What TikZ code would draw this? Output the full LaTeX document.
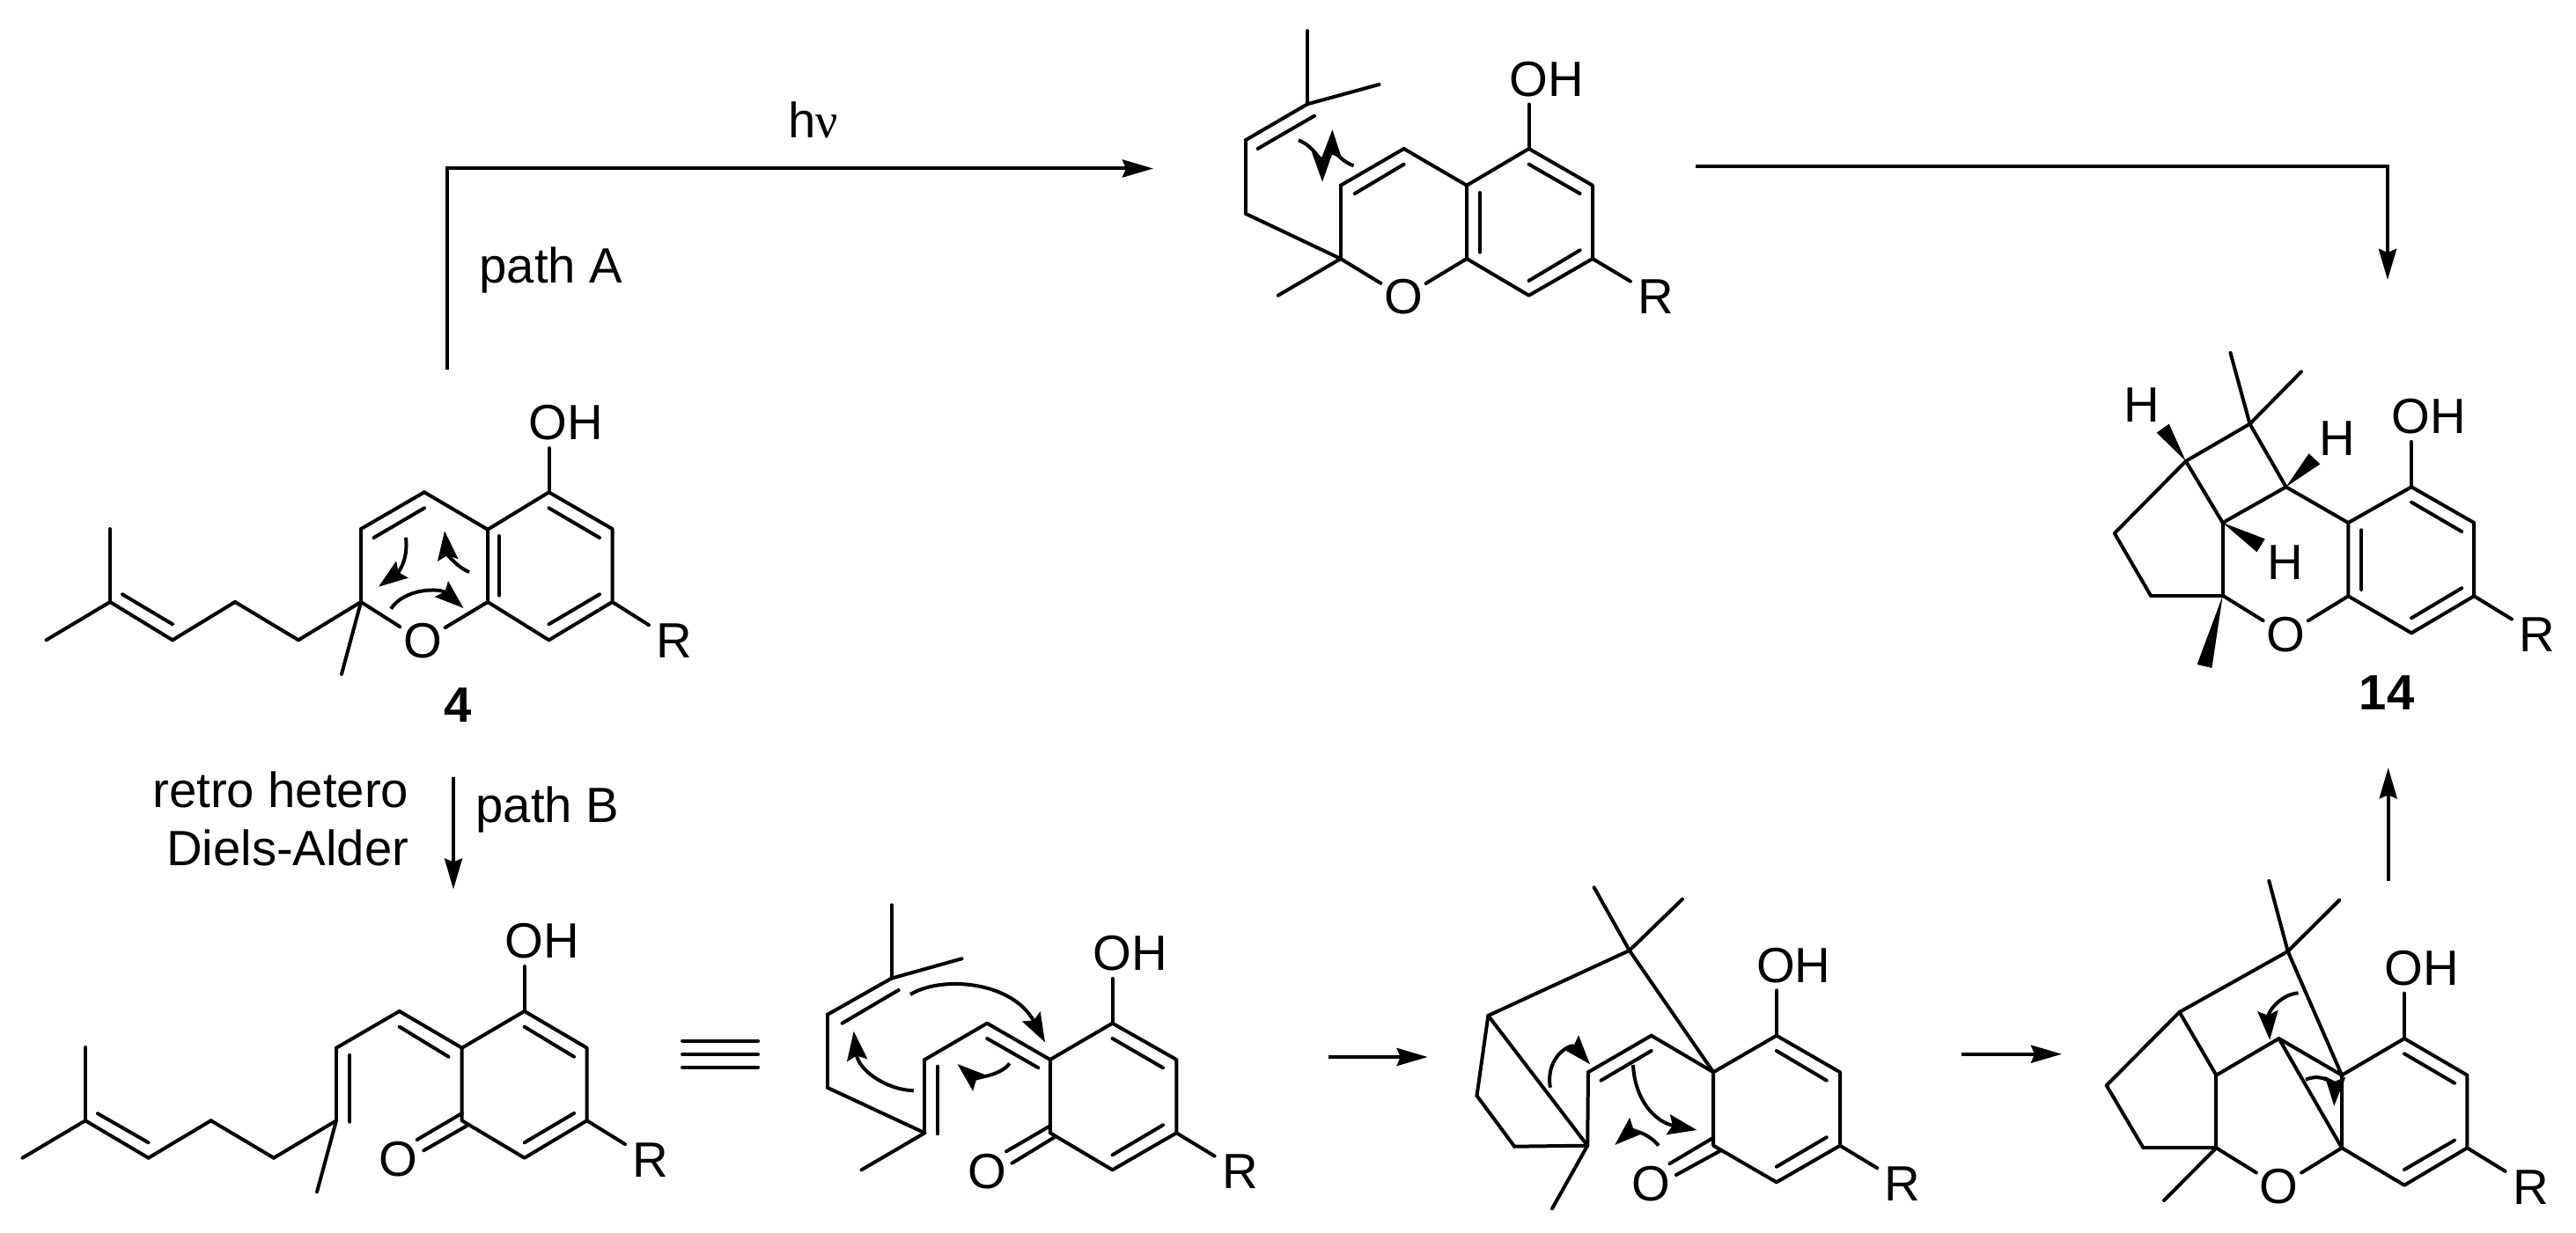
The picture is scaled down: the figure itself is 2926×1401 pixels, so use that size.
\documentclass[tikz,border=0pt]{standalone}
\usepackage{fontspec, tkz-euclide}
\usetikzlibrary{arrows.meta}
\setmainfont{Liberation Sans}
\newfontfamily\greekfont{Liberation Serif}
\tikzset{>={Stealth[length=0.35cm,width=0.2cm,inset=0.04cm]}}
\tikzset{bond/.style={line width=0.04cm, line cap=round}}
\tikzset{curly/.style={line width=0.04cm, ->, >={Stealth[length=0.33cm,width=0.23cm,inset=0.05cm]}}}
\tikzset{atom/.style={font=\fontsize{16}{18.8}\selectfont, inner xsep=0.03cm, inner ysep=0.08cm}}
\tikzset{rgroup/.style={atom, inner xsep=0.08cm}}
\tikzset{tag/.style={font=\fontsize{16}{18.8}\selectfont, inner sep=0pt}}
\tikzset{numbering/.style={font=\fontsize{16}{18.8}\selectfont\bfseries, inner sep=0pt}}

\begin{document}
\begin{tikzpicture}[x=0.01cm, y=-0.01cm]
    \useasboundingbox (0,0) rectangle (2926,1401);
    \tkzDefPoints{125/601/A1, 125/684/A2, 52.5/727.3/A3, 196/727.3/A4, 267/684/A5, 339/727.3/A6,
        410/684/A7, 388/766/A8, 410/601/A9, 482/559.3/A10, 554/601.7/A11, 554/684/A12,
        623.5/559.3/A13, 695.5/601/A14, 695.5/684/A15, 623.5/727.3/A16,
        139/675.3/Aa, 196/709.3/Ab, 424.5/611/Ac, 482/577.3/Ad, 567/609/Ae, 567/676.7/Af,
        623.5/577.3/Ag, 681/611/Ah, 623.5/709.3/Ai, 681/675.3/Aj}
    \tkzDefPoints{1485/35/B1, 1485/118.3/B2, 1566.5/96/B3, 1414.7/159.3/B4, 1414.7/242.7/B5,
        1522.8/294/B6, 1451.8/335.7/B7, 1522.8/210.7/B8, 1594.6/169/B9, 1666/210.7/B10,
        1666/294/B11, 1736.6/169/B12, 1809/210.7/B13, 1809/294/B14, 1736.6/335.7/B15,
        1428.6/169/Ba, 1492.9/131.7/Bb, 1538.8/220/Bc, 1594.6/186.7/Bd, 1680.8/219/Be,
        1680.8/286.7/Bf, 1736.6/186.7/Bg, 1794.6/220/Bh, 1736.6/319/Bi, 1794.6/284.3/Bj}
    \tkzDefPoints{2533.5/401/C1, 2614/422.3/C2, 2555.5/481.7/C3, 2482.8/524/C4, 2596.6/553.3/C5,
        2524.7/594/C6, 2401.8/606/C7, 2442.9/676.7/C8, 2524.7/676.7/C9, 2667.3/594/C10,
        2667.3/677.3/C11, 2739.1/553.3/C12, 2810.2/594/C13, 2810.2/677.3/C14, 2739.1/719.3/C15,
        2682.4/602.3/Ca, 2682.4/670/Cb, 2739.1/570.7/Cc, 2796.2/604/Cd, 2739.1/702.3/Ce,
        2796.2/668.3/Cf, 2449.7/491.7/Cg, 2463.7/481.7/Ch, 2622.6/515.3/Ci, 2635.3/527.3/Cj,
        2572.7/612.3/Ck, 2563.5/627.3/Cl, 2495.6/755/Cm, 2512.4/759/Cn}
    \tkzDefPoints{97/1190/D1, 97/1273.3/D2, 25.5/1315.7/D3, 168.6/1315.7/D4, 239.6/1273.3/D5,
        311/1315.7/D6, 382/1273.3/D7, 360/1354.3/D8, 382/1190.7/D9, 453.7/1149/D10,
        524.7/1190.7/D11, 524.7/1273.3/D12, 595.7/1149/D13, 666.7/1190.7/D14, 666.7/1273.3/D15,
        595.7/1315.7/D16,
        111/1265.3/Da, 168.6/1298.3/Db, 397.3/1199/Dc, 397.3/1274.7/Dd, 453.7/1166.7/De,
        509.5/1200.7/Df, 595.7/1166.7/Dg, 652/1200.7/Dh, 595.7/1298.3/Di, 652/1265/Dj,
        524.7/1265/Dk, 473.7/1295/Dl, 530/1279.3/Dm, 481.3/1307.3/Dn}
    \tkzDefPoints{1012.5/1028.3/E1, 1012.5/1111.7/E2, 1092.5/1089.3/E3, 940.2/1152.7/E4, 940.2/1236/E5,
        1050.4/1287.3/E6, 978.5/1329.3/E7, 1050.4/1204/E8, 1121.2/1162.7/E9, 1192.8/1204/E10,
        1192.8/1287.3/E11, 1263.6/1162.7/E12, 1336.3/1204/E13, 1336.3/1287.3/E14, 1263.6/1329.3/E15,
        956.6/1162.7/Ea, 1020.6/1125/Eb, 1065/1211.7/Ec, 1065/1288.3/Ed, 1121.2/1180/Ee,
        1179.4/1213.3/Ef, 1263.6/1180/Eg, 1321/1213.3/Eh, 1263.6/1312.3/Ei, 1321/1278.3/Ej,
        1192.8/1279.3/Ek, 1143/1308.3/El, 1198.5/1291.7/Em, 1149.5/1321.7/En}
    \tkzDefPoints{1810.6/1008.3/F1, 1911/1021.7/F2, 1850.8/1080/F3, 1690.4/1154/F4, 1677.5/1245/F5,
        1720.2/1302.7/F6, 1803.2/1301.7/F7, 1763/1373.3/F8, 1804/1218.3/F9, 1875.7/1176.7/F10,
        1946.2/1218.3/F11, 1946.2/1301.7/F12, 2017.9/1176.7/F13, 2090/1218.3/F14, 2090/1301.7/F15,
        2017.9/1343.3/F16,
        1818.5/1227.7/Fa, 1875.7/1194/Fb, 2017.9/1194/Fc, 2074.7/1227.7/Fd, 2017.9/1325.7/Fe,
        2074.7/1292.3/Ff, 1946.2/1292.7/Fg, 1896.4/1322.3/Fh, 1954.5/1307.3/Fi, 1903.9/1335/Fj}
    \tkzDefPoints{2577.3/1001/G1, 2657.3/1022.7/G2, 2598.7/1081/G3, 2475.6/1150/G4, 2392.7/1233.3/G5,
        2434.5/1304.3/G6, 2517.4/1304.3/G7, 2458/1364/G8, 2517.4/1221.7/G9, 2588.5/1180/G10,
        2660/1221.7/G11, 2660/1304.3/G12, 2731/1180/G13, 2802.4/1221.7/G14, 2802.4/1304.3/G15,
        2731/1346.7/G16,
        2731/1197.3/Ga, 2788/1230.7/Gb, 2731/1329/Gc, 2788/1295.7/Gd}
    \tkzDefPoints{508/420/P1, 508/191.5/P2, 1310/191.5/P3, 1926/189.3/Q1, 2712/189.3/Q2, 2712/318/Q3,
        515/883/S1, 515/1010.5/S2, 1509/1201/T1, 1621.7/1201/T2, 2228/1197.7/U1, 2342/1197.7/U2,
        2712.7/1000.7/V1, 2712.7/872.3/V2, 775/1182.7/W1, 861/1182.7/W2, 775/1198/W3, 861/1198/W4,
        775/1212.7/W5, 861/1212.7/W6}

    \node[atom] (oa) at (480,728.5) {O};
    \node[atom] (oha) at (643,480.5) {OH};
    \node[rgroup] (ra) at (766,728.5) {R};
    \node[numbering] (numa) at (520,801) {4};
    \node[atom] (ob) at (1594,337.5) {O};
    \node[atom] (ohb) at (1757,90) {OH};
    \node[rgroup] (rb) at (1881,337) {R};
    \node[atom] (oc) at (2596.2,721) {O};
    \node[atom] (ohc) at (2759,473.3) {OH};
    \node[rgroup] (rc) at (2882,721.3) {R};
    \node[numbering] (numc) at (2711.2,787) {14};
    \node[atom] (ha) at (2433,460) {H};
    \node[atom] (hb) at (2654.9,498) {H};
    \node[atom] (hc) at (2595.8,639) {H};
    \node[atom] (od) at (452,1317.5) {O};
    \node[atom] (ohd) at (615.5,1069.5) {OH};
    \node[rgroup] (rd) at (739,1318) {R};
    \node[atom] (oe) at (1121.5,1331) {O};
    \node[atom] (ohe) at (1283.6,1083.3) {OH};
    \node[rgroup] (re) at (1408.6,1331.2) {R};
    \node[atom] (of) at (1875,1345) {O};
    \node[atom] (ohf) at (2037.4,1096.7) {OH};
    \node[rgroup] (rf) at (2161.2,1344.7) {R};
    \node[atom] (og) at (2588.5,1348.3) {O};
    \node[atom] (ohg) at (2751,1100) {OH};
    \node[rgroup] (rg) at (2874.7,1348.7) {R};
    \node[tag, anchor=base] (light) at (924,156.7) {h{\greekfont ν}};
    \node[tag, anchor=base west] (patha) at (544,321.7) {path A};
    \node[tag, anchor=base west] (pathb) at (540,935) {path B};
    \node[tag, anchor=east, align=right] (retro) at (465,930) {retro hetero\\Diels-Alder};

    \tkzDrawPolygon[bond](A11,A13,A14,A15,A16,A12)
    \tkzDrawSegments[bond](A1,A2 A2,A3 A2,A4 A4,A5 A5,A6 A6,A7 A7,A8 A7,A9 A9,A10 A10,A11
        Aa,Ab Ac,Ad Ae,Af Ag,Ah Ai,Aj)
    \draw[bond] (A7) -- (oa);
    \draw[bond] (A12) -- (oa);
    \draw[bond] (A15) -- (ra);
    \draw[bond] (A13) -- (A13 |- oha.south);
    \draw[curly] (461,610.7) .. controls (464,635) and (453,650) .. (430,666.7);
    \draw[curly] (533,650) .. controls (520,645) and (508,630) .. (505,603.3);
    \draw[curly] (444,691.7) .. controls (460,668) and (500,668) .. (526.5,691);

    \tkzDrawPolygon[bond](B10,B12,B13,B14,B15,B11)
    \tkzDrawSegments[bond](B1,B2 B2,B3 B2,B4 B4,B5 B5,B6 B6,B7 B6,B8 B8,B9 B9,B10
        Ba,Bb Bc,Bd Be,Bf Bg,Bh Bi,Bj)
    \draw[bond] (B6) -- (ob);
    \draw[bond] (B11) -- (ob);
    \draw[bond] (B14) -- (rb);
    \draw[bond] (B12) -- (B12 |- ohb.south);
    \draw[curly] (1475,159.3) .. controls (1495,167) and (1502,190) .. (1502,206.7);
    \draw[curly] (1537.5,188.3) .. controls (1520,182) and (1513,165) .. (1513.4,147.3);

    \tkzDrawPolygon[bond](C10,C12,C13,C14,C15,C11)
    \tkzDrawSegments[bond](C1,C3 C2,C3 C3,C4 C3,C5 C4,C6 C5,C6 C5,C10 C4,C7 C7,C8 C8,C9 C6,C9
        Ca,Cb Cc,Cd Ce,Cf)
    \draw[bond] (C9) -- (oc);
    \draw[bond] (C11) -- (oc);
    \draw[bond] (C14) -- (rc);
    \draw[bond] (C12) -- (C12 |- ohc.south);
    \fill (C4) -- (Cg) -- (Ch) -- cycle;
    \fill (C5) -- (Ci) -- (Cj) -- cycle;
    \fill (C6) -- (Ck) -- (Cl) -- cycle;
    \fill (C9) -- (Cm) -- (Cn) -- cycle;

    \tkzDrawPolygon[bond](D11,D13,D14,D15,D16,D12)
    \tkzDrawSegments[bond](D1,D2 D2,D3 D2,D4 D4,D5 D5,D6 D6,D7 D7,D8 D7,D9 D9,D10 D10,D11
        Da,Db Dc,Dd De,Df Dg,Dh Di,Dj Dk,Dl Dm,Dn)
    \draw[bond] (D15) -- (rd);
    \draw[bond] (D13) -- (D13 |- ohd.south);

    \tkzDrawPolygon[bond](E10,E12,E13,E14,E15,E11)
    \tkzDrawSegments[bond](E1,E2 E2,E3 E2,E4 E4,E5 E5,E6 E6,E7 E6,E8 E8,E9 E9,E10
        Ea,Eb Ec,Ed Ee,Ef Eg,Eh Ei,Ej Ek,El Em,En)
    \draw[bond] (E14) -- (re);
    \draw[bond] (E12) -- (E12 |- ohe.south);
    \draw[curly] (1034,1130) .. controls (1070,1108) and (1150,1115) .. (1187,1184.3);
    \draw[curly] (1037.8,1239.3) .. controls (1005,1238) and (975,1215) .. (969.7,1171.7);
    \draw[curly] (1146.8,1208.3) .. controls (1135,1224) and (1105,1224) .. (1087.5,1209);

    \tkzDrawPolygon[bond](F11,F13,F14,F15,F16,F12)
    \tkzDrawSegments[bond](F1,F3 F2,F3 F3,F4 F3,F11 F4,F5 F5,F6 F6,F7 F4,F7 F7,F8 F7,F9 F9,F10 F10,F11
        Fa,Fb Fc,Fd Fe,Ff Fg,Fh Fi,Fj)
    \draw[bond] (F15) -- (rf);
    \draw[bond] (F13) -- (F13 |- ohf.south);
    \draw[curly] (1760.9,1235.7) .. controls (1755,1200) and (1785,1185) .. (1806,1209.3);
    \draw[curly] (1855,1210) .. controls (1857,1250) and (1880,1275) .. (1927.5,1284);
    \draw[curly] (1884,1301.7) .. controls (1870,1285) and (1852,1285) .. (1834.2,1301);

    \tkzDrawPolygon[bond](G11,G13,G14,G15,G16,G12)
    \tkzDrawSegments[bond](G1,G3 G2,G3 G3,G4 G3,G11 G4,G5 G5,G6 G6,G7 G4,G9 G7,G8 G7,G9 G9,G10 G10,G11 G10,G12
        Ga,Gb Gc,Gd)
    \draw[bond] (G7) -- (og);
    \draw[bond] (G12) -- (og);
    \draw[bond] (G15) -- (rg);
    \draw[bond] (G13) -- (G13 |- ohg.south);
    \draw[curly] (2610.5,1128.3) .. controls (2590,1130) and (2576,1150) .. (2578.2,1181.7);
    \draw[curly] (2618.9,1226.7) .. controls (2640,1218) and (2652,1235) .. (2651.2,1256.7);

    \draw[line width=0.04cm, ->] (P1) -- (P2) -- (P3);
    \draw[line width=0.04cm, ->] (Q1) -- (Q2) -- (Q3);
    \draw[line width=0.04cm, ->] (S1) -- (S2);
    \draw[line width=0.04cm, ->] (T1) -- (T2);
    \draw[line width=0.04cm, ->] (U1) -- (U2);
    \draw[line width=0.04cm, ->] (V1) -- (V2);
    \tkzDrawSegments[line width=0.04cm](W1,W2 W3,W4 W5,W6)
\end{tikzpicture}
\end{document}
